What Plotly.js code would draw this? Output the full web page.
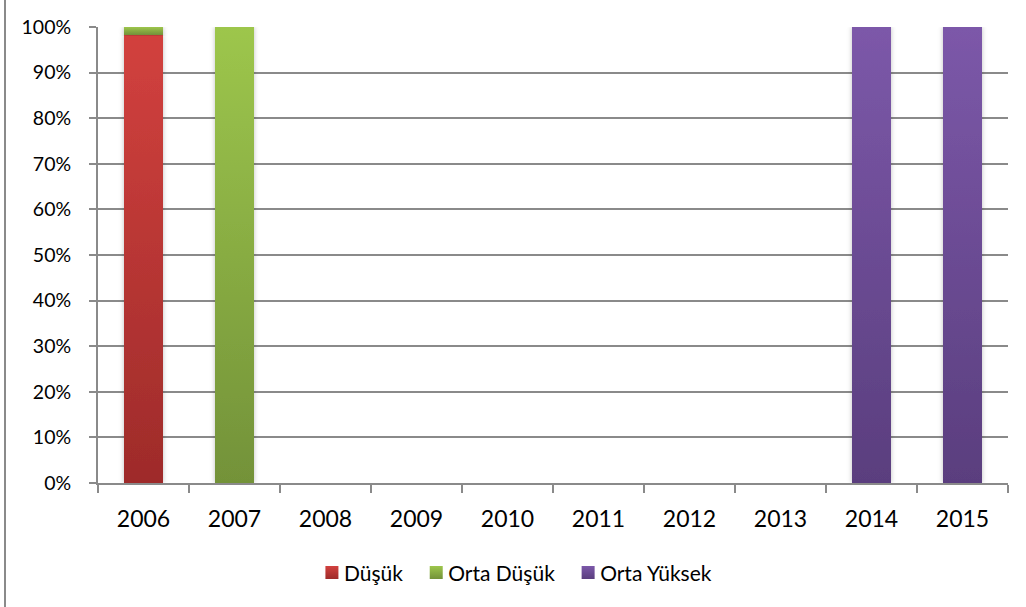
<!DOCTYPE html>
<html>
<head>
<meta charset="utf-8">
<script src="https://cdn.plot.ly/plotly-3.0.1.min.js"></script>
<style>
  html, body { margin: 0; padding: 0; background: #fff; }
  #chart { width: 1026px; height: 607px; position: relative; }
  #edge { position: absolute; left: 4px; top: 0; width: 2px; height: 607px; background: #8a8a8a; z-index: 5; }
</style>
</head>
<body>
<div id="chart"><div id="edge"></div></div>
<script>
const years = ["2006", "2007", "2008", "2009", "2010", "2011", "2012", "2013", "2014", "2015"];
const seriesNames = ["Düşük", "Orta Düşük", "Orta Yüksek"];
const dusuk      = [98.3, 0, 0, 0, 0, 0, 0, 0, 0, 0];
const ortaDusuk  = [1.7, 100, 0, 0, 0, 0, 0, 0, 0, 0];
const ortaYuksek = [0, 0, 0, 0, 0, 0, 0, 0, 100, 100];
const yTickVals = [0, 10, 20, 30, 40, 50, 60, 70, 80, 90, 100];
const yTickText = ["0%", "10%", "20%", "30%", "40%", "50%", "60%", "70%", "80%", "90%", "100%"];

const colors = ["#BE3535", "#8BB043", "#6E4E98"];
const grads = [
  ["#D2413E", "#9E2B2A"],
  ["#9DC64C", "#739239"],
  ["#7C58A9", "#5A3E7E"]
];
const values = [dusuk, ortaDusuk, ortaYuksek];

const traces = values.map((v, i) => ({
  type: "bar",
  name: seriesNames[i],
  x: years,
  y: v,
  width: 0.42,
  marker: { color: colors[i], line: { width: 0 } },
  hoverinfo: "x+y+name"
}));

const font = "Lato, 'Open Sans', sans-serif";
const layout = {
  width: 1026,
  height: 607,
  margin: { l: 98, r: 18, t: 27, b: 124 },
  barmode: "stack",
  paper_bgcolor: "#ffffff",
  plot_bgcolor: "#ffffff",
  showlegend: true,
  legend: {
    orientation: "h",
    x: 0.462, xanchor: "center",
    y: -0.197, yanchor: "middle",
    font: { family: font, size: 21, color: "#000" },
    traceorder: "normal",
    itemwidth: 30
  },
  xaxis: {
    type: "category",
    tickson: "boundaries",
    ticks: "outside",
    ticklen: 8,
    tickwidth: 2,
    tickcolor: "#8a8a8a",
    showline: true,
    linecolor: "#8a8a8a",
    linewidth: 2,
    showgrid: false,
    tickfont: { family: font, size: 23, color: "#000" },
    ticklabelstandoff: 14
  },
  yaxis: {
    range: [0, 100],
    tickvals: yTickVals,
    ticktext: yTickText,
    ticks: "outside",
    ticklen: 7,
    tickwidth: 2,
    tickcolor: "#8a8a8a",
    showline: true,
    linecolor: "#8a8a8a",
    linewidth: 2,
    showgrid: true,
    gridcolor: "#8a8a8a",
    gridwidth: 2,
    zeroline: false,
    tickfont: { family: font, size: 19.5, color: "#000" },
    ticklabelstandoff: 14
  }
};

Plotly.newPlot("chart", traces, layout, { displayModeBar: false, staticPlot: true }).then(gd => {
  const svg = gd.querySelector("svg.main-svg");
  const ns = "http://www.w3.org/2000/svg";
  let defs = svg.querySelector("defs");
  grads.forEach((g, i) => {
    const lg = document.createElementNS(ns, "linearGradient");
    lg.setAttribute("id", "barGrad" + i);
    lg.setAttribute("x1", "0"); lg.setAttribute("y1", "0");
    lg.setAttribute("x2", "0"); lg.setAttribute("y2", "1");
    [[0, g[0]], [1, g[1]]].forEach(([o, c]) => {
      const st = document.createElementNS(ns, "stop");
      st.setAttribute("offset", o);
      st.setAttribute("stop-color", c);
      lg.appendChild(st);
    });
    defs.appendChild(lg);
  });
  const flt = document.createElementNS(ns, "filter");
  flt.setAttribute("id", "barShadow");
  flt.setAttribute("x", "-30%"); flt.setAttribute("y", "-5%");
  flt.setAttribute("width", "160%"); flt.setAttribute("height", "110%");
  const ds = document.createElementNS(ns, "feDropShadow");
  ds.setAttribute("dx", "0"); ds.setAttribute("dy", "0");
  ds.setAttribute("stdDeviation", "2.5");
  ds.setAttribute("flood-color", "#000"); ds.setAttribute("flood-opacity", "0.25");
  flt.appendChild(ds);
  defs.appendChild(flt);

  gd.querySelectorAll(".barlayer .trace.bars").forEach((t, i) => {
    t.querySelectorAll("path").forEach(p => {
      p.style.fill = "url(#barGrad" + i + ")";
      p.setAttribute("filter", "url(#barShadow)");
    });
  });
  gd.querySelectorAll(".legend .traces").forEach((t, i) => {
    t.querySelectorAll(".legendpoints path").forEach(p => {
      p.style.fill = "url(#barGrad" + i + ")";
      p.setAttribute("d", "M6.5,6.5H-6.5V-6.5H6.5Z");
    });
    t.querySelectorAll("text.legendtext").forEach(tx => {
      tx.setAttribute("x", "32");
    });
  });
});
</script>
</body>
</html>
